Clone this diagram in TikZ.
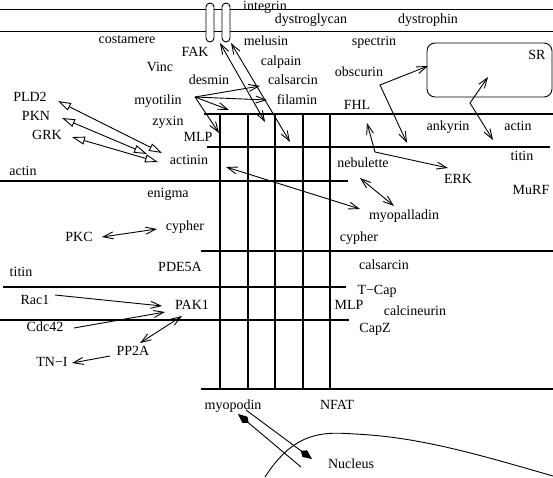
\documentclass[tikz,border=0pt]{standalone}
\usepackage{fontspec}
\setmainfont{Liberation Serif}
\usepackage{tikz}
\usetikzlibrary{arrows.meta}

\begin{document}
\begin{tikzpicture}[x=1pt, y=-1pt,
  every node/.style={inner sep=0pt},
  >={Straight Barb[length=10pt,width=7pt]},
  lbl/.style={font=\fontsize{14}{16}\selectfont, text height=1.5ex, text depth=.25ex},
  thinline/.style={line width=.9pt},
  midline/.style={line width=1.3pt},
  thickline/.style={line width=2pt},
  link/.style={->, line width=.9pt},
  dlink/.style={<->, line width=.9pt},
  trilink/.style={{Triangle[open,length=13pt,width=8pt]}-{Triangle[open,length=13pt,width=8pt]}, line width=.9pt},
  kitelink/.style={-{Kite[length=14pt,width=8pt,inset=5pt]}, line width=.9pt}]
\useasboundingbox (0,0) rectangle (553,477);

% membrane and sarcomere lines
\draw[thinline] (0,9) -- (553,9);
\draw[thinline] (0,31) -- (553,31);
\draw[thickline] (204,114) -- (553,114);
\draw[midline] (207,147) -- (550,147);
\draw[thickline] (0,181) -- (348,181);
\draw[thickline] (201,251) -- (553,251);
\draw[midline] (3,287) -- (346,287);
\draw[thickline] (0,320) -- (349,320);
\draw[thickline] (201,389) -- (553,389);
\foreach \gx in {220,248,275,303,330}
  \draw[thickline] (\gx,114) -- (\gx,389);
\draw[thinline, fill=white, rounded corners=4pt] (206,3) rectangle (214,42);
\draw[thinline, fill=white, rounded corners=4pt] (222,3) rectangle (230,42);
\draw[thinline, rounded corners=8pt] (427,43) rectangle (552,97);
\draw[thinline] (265,477) .. controls (295,430) and (325,432) .. (355,434)
  .. controls (420,437) and (480,455) .. (553,476);

% labels
\node[lbl] (integrin) at (265,7.5) {integrin};
\node[lbl] (dystroglycan) at (311,21) {dystroglycan};
\node[lbl] (dystrophin) at (428,21) {dystrophin};
\node[lbl] (costamere) at (127,41) {costamere};
\node[lbl] (melusin) at (266,43) {melusin};
\node[lbl] (spectrin) at (374,43) {spectrin};
\node[lbl] (fak) at (195,54) {FAK};
\node[lbl] (calpain) at (281,63) {calpain};
\node[lbl] (vinc) at (160,69) {Vinc};
\node[lbl] (obscurin) at (359,74) {obscurin};
\node[lbl] (desmin) at (209,82) {desmin};
\node[lbl] (calsarcinT) at (293,82) {calsarcin};
\node[lbl] (myotilin) at (158,102) {myotilin};
\node[lbl] (filamin) at (297,102) {filamin};
\node[lbl] (pld2) at (30,99) {PLD2};
\node[lbl] (pkn) at (36,118) {PKN};
\node[lbl] (grk) at (47,137) {GRK};
\node[lbl] (fhl) at (357,107) {FHL};
\node[lbl] (zyxin) at (168,123) {zyxin};
\node[lbl] (ankyrin) at (448,128) {ankyrin};
\node[lbl] (actinR) at (518,128) {actin};
\node[lbl] (mlpT) at (198,139) {MLP};
\node[lbl] (sr) at (537,57) {SR};
\node[lbl] (titinR) at (522,158) {titin};
\node[lbl] (actinin) at (189,162) {actinin};
\node[lbl] (nebulette) at (363,165) {nebulette};
\node[lbl] (actinL) at (23,173) {actin};
\node[lbl] (erk) at (458,181) {ERK};
\node[lbl] (murf) at (531,192) {MuRF};
\node[lbl] (enigma) at (168,195) {enigma};
\node[lbl] (myopalladin) at (404,217) {myopalladin};
\node[lbl] (cypherL) at (185,228) {cypher};
\node[lbl] (pkc) at (79,239) {PKC};
\node[lbl] (cypherR) at (359,239) {cypher};
\node[lbl] (calsarcinR) at (384,267) {calsarcin};
\node[lbl] (pde5a) at (180,269) {PDE5A};
\node[lbl] (titinL) at (21,274) {titin};
\node[lbl] (tcap) at (377,292) {T−Cap};
\node[lbl] (rac1) at (35,302) {Rac1};
\node[lbl] (pak1) at (192,307) {PAK1};
\node[lbl] (mlpB) at (349,307) {MLP};
\node[lbl] (calcineurin) at (415,313) {calcineurin};
\node[lbl] (cdc42) at (45,329) {Cdc42};
\node[lbl] (capz) at (375,330) {CapZ};
\node[lbl] (pp2a) at (133,353) {PP2A};
\node[lbl] (tni) at (52,364) {TN−I};
\node[lbl] (myopodin) at (233,407) {myopodin};
\node[lbl] (nfat) at (337,407) {NFAT};
\node[lbl] (nucleus) at (351,466) {Nucleus};

% arrow ends
\coordinate (pld2-a) at (58,101);   \coordinate (pld2-b) at (162,153);
\coordinate (pkn-a) at (62,118);    \coordinate (pkn-b) at (147,154);
\coordinate (grk-a) at (72,137);    \coordinate (grk-b) at (158,162);
\coordinate (int1-a) at (220,43);   \coordinate (int1-b) at (265,122);
\coordinate (int2-a) at (231,43);   \coordinate (int2-b) at (290,142);
\coordinate (myo-root) at (195,97);
\coordinate (myo-1) at (260,86);    \coordinate (myo-2) at (267,100);
\coordinate (myo-3) at (229,110);   \coordinate (myo-4) at (219,133);
\coordinate (actn-a) at (226,167);  \coordinate (actn-b) at (360,209);
\coordinate (neb-a) at (360,178);   \coordinate (neb-b) at (394,206);
\coordinate (fhl-a) at (367,123);   \coordinate (fhl-k) at (375,152);
\coordinate (fhl-b) at (448,168);
\coordinate (obs-a) at (407,143);   \coordinate (obs-k) at (380,85);
\coordinate (obs-b) at (428,66);
\coordinate (sr-a) at (488,77);     \coordinate (sr-k) at (470,103);
\coordinate (sr-b) at (493,140);
\coordinate (pkc-a) at (102,237);   \coordinate (pkc-b) at (157,229);
\coordinate (rac-a) at (55,295);    \coordinate (rac-b) at (162,306);
\coordinate (cdc-a) at (74,328);    \coordinate (cdc-b) at (165,312);
\coordinate (pak-a) at (182,316);   \coordinate (pak-b) at (140,343);
\coordinate (pp-a) at (110,356);    \coordinate (pp-b) at (72,363);
\coordinate (nuc1-a) at (301,467);  \coordinate (nuc1-b) at (238,414);
\coordinate (nuc2-a) at (246,410);  \coordinate (nuc2-b) at (312,459);

% connectors
\draw[trilink] (pld2-a) -- (pld2-b);
\draw[trilink] (pkn-a) -- (pkn-b);
\draw[trilink] (grk-a) -- (grk-b);
\draw[dlink] (int1-a) -- (int1-b);
\draw[dlink] (int2-a) -- (int2-b);
\foreach \k in {1,...,4}
  \draw[link] (myo-root) -- (myo-\k);
\draw[dlink] (actn-a) -- (actn-b);
\draw[dlink] (neb-a) -- (neb-b);
\draw[dlink] (fhl-a) -- (fhl-k) -- (fhl-b);
\draw[dlink] (obs-a) -- (obs-k) -- (obs-b);
\draw[dlink] (sr-a) -- (sr-k) -- (sr-b);
\draw[dlink] (pkc-a) -- (pkc-b);
\draw[link] (rac-a) -- (rac-b);
\draw[link] (cdc-a) -- (cdc-b);
\draw[dlink] (pak-a) -- (pak-b);
\draw[link] (pp-a) -- (pp-b);
\draw[kitelink] (nuc1-a) -- (nuc1-b);
\draw[kitelink] (nuc2-a) -- (nuc2-b);
\end{tikzpicture}
\end{document}
